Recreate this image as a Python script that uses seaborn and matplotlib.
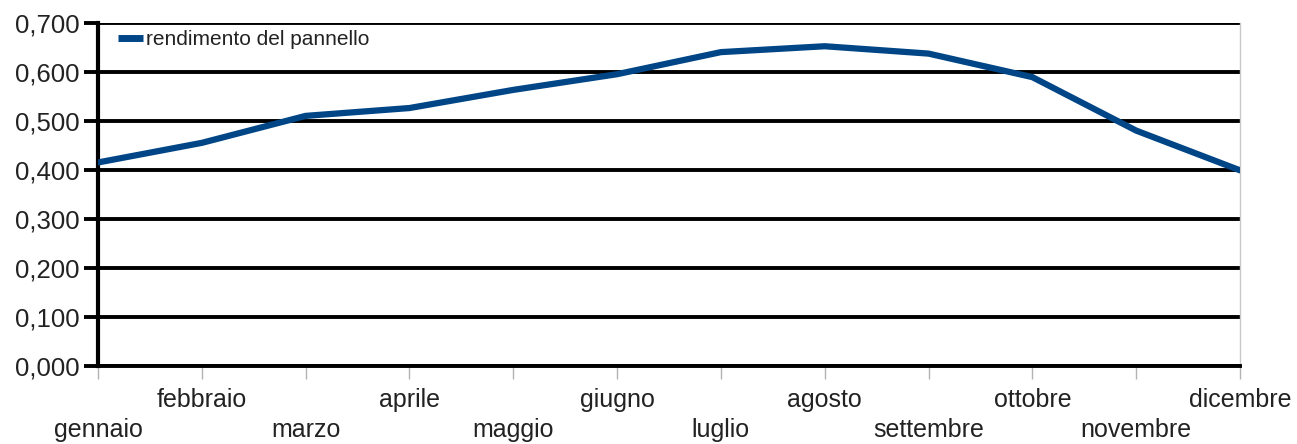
import matplotlib
matplotlib.use("Agg")
import matplotlib.pyplot as plt
import seaborn as sns
import pandas as pd

mesi = ["gennaio", "febbraio", "marzo", "aprile", "maggio", "giugno",
        "luglio", "agosto", "settembre", "ottobre", "novembre", "dicembre"]
rendimento = [0.415, 0.455, 0.510, 0.526, 0.563, 0.595,
              0.640, 0.652, 0.637, 0.589, 0.480, 0.399]
serie = "rendimento del pannello"
y_ticks = [0.0, 0.1, 0.2, 0.3, 0.4, 0.5, 0.6, 0.7]

sns.set_theme(style="white")
plt.rcParams["font.family"] = ["Liberation Sans", "DejaVu Sans"]

df = pd.DataFrame({"pos": range(len(mesi)), "valore": rendimento, "serie": serie})

fig = plt.figure(figsize=(12.97, 4.44), dpi=100)
ax = fig.add_axes([98 / 1297, 1 - 366 / 444, (1240 - 98) / 1297, (366 - 22.7) / 444])

# horizontal grid lines
for v in y_ticks:
    ax.axhline(v, color="black", lw=2.8, zorder=1)

sns.lineplot(data=df, x="pos", y="valore", hue="serie", palette=["#004586"],
             lw=4.5, ax=ax, zorder=3, legend=True, solid_joinstyle="miter")

ax.set_xlim(0, len(mesi) - 1)
ax.set_ylim(0, 0.7)
ax.set_yticks(y_ticks)
ax.set_yticklabels([f"{v:.3f}".replace(".", ",") for v in y_ticks], fontsize=18.5, color="#222222")
ax.set_xticks(range(len(mesi)))
ax.set_xticklabels([m if i % 2 else "\n" + m for i, m in enumerate(mesi)],
                   fontsize=18, color="#222222", linespacing=1.3)
ax.set_xlabel("")
ax.set_ylabel("")

ax.tick_params(axis="x", bottom=True, length=9, width=1, color="#b3b3b3", pad=7)
ax.tick_params(axis="y", left=True, length=10, width=2.8, color="black", pad=3)

ax.spines["top"].set_visible(False)
ax.spines["left"].set_color("black")
ax.spines["left"].set_linewidth(3)
ax.spines["bottom"].set_color("black")
ax.spines["bottom"].set_linewidth(2.8)
ax.spines["right"].set_color("#c8c8c8")
ax.spines["right"].set_linewidth(1)

leg = ax.legend(loc="upper left", frameon=False, fontsize=15, handlelength=1.2,
                handletextpad=0.15, borderaxespad=0, borderpad=0,
                bbox_to_anchor=(118 / 1297, 1 - 30 / 444), bbox_transform=fig.transFigure)
for h in leg.get_lines():
    h.set_linewidth(5)
    h.set_solid_capstyle("butt")
for t in leg.get_texts():
    t.set_color("#222222")

fig.savefig("out.png", dpi=100)
